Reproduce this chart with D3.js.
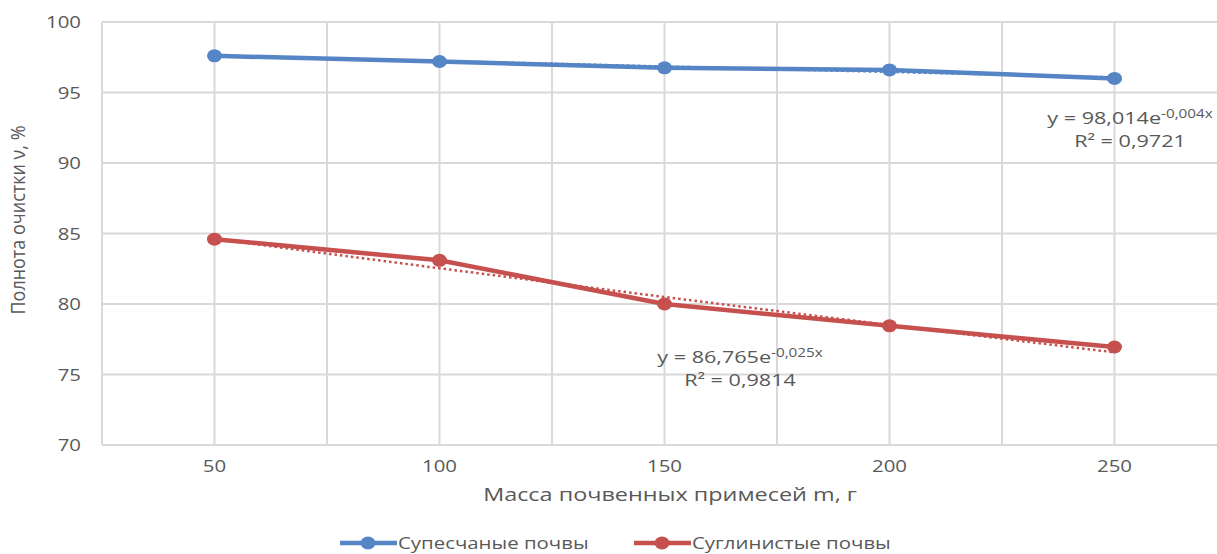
<!DOCTYPE html>
<html>
<head>
<meta charset="utf-8">
<script src="https://cdn.jsdelivr.net/npm/d3@7"></script>
<style>
  body { margin: 0; background: #fff; }
  text { font-family: "Open Sans", sans-serif; fill: #595959; }
</style>
</head>
<body>
<div id="root"></div>
<script>
// chart data
const masses = [50, 100, 150, 200, 250];
const sandyValues = [97.6, 97.2, 96.75, 96.6, 96.0];
const loamyValues = [84.6, 83.1, 80.0, 78.45, 76.95];
const yTicks = [70, 75, 80, 85, 90, 95, 100];

// trend equations as shown on the chart: y = a * e^(b * x), x = category number
const sandyTrend = { a: 98.014, b: -0.004, label: '98,014', exp: '-0,004x', r2: '0,9721' };
const loamyTrend = { a: 86.765, b: -0.025, label: '86,765', exp: '-0,025x', r2: '0,9814' };

const width = 1217, height = 554;
const plot = { left: 102, top: 22, bottom: 445, step: 225 };

const svg = d3.select('#root').append('svg')
  .attr('width', width)
  .attr('height', height)
  .attr('viewBox', [0, 0, width, height]);

// the source picture has horizontally stretched lettering, so texts get a scaleX
const place = (x, y, sx) => `translate(${x},${y}) scale(${sx},1)`;

const x = d3.scaleBand()
  .domain(masses)
  .range([plot.left, plot.left + plot.step * masses.length])
  .padding(0);
const xc = (d) => x(d) + x.bandwidth() / 2;

const y = d3.scaleLinear().domain([70, 100]).range([plot.bottom, plot.top]);

// gridlines: horizontal
svg.append('g')
  .selectAll('line')
  .data(yTicks)
  .join('line')
  .attr('x1', plot.left)
  .attr('x2', width)
  .attr('y1', (d) => y(d))
  .attr('y2', (d) => y(d))
  .attr('stroke', '#d9d9d9')
  .attr('stroke-width', 2);

// vertical gridlines at category centres and between categories
const vLines = masses.flatMap((d) => [x(d), xc(d)]);
svg.append('g')
  .selectAll('line')
  .data(vLines)
  .join('line')
  .attr('x1', (d) => d)
  .attr('x2', (d) => d)
  .attr('y1', plot.top)
  .attr('y2', plot.bottom)
  .attr('stroke', '#d9d9d9')
  .attr('stroke-width', 2);

// axis labels
svg.append('g')
  .selectAll('text')
  .data(yTicks)
  .join('text')
  .attr('transform', (d) => place(81, y(d) + 6, 1.2))
  .attr('text-anchor', 'end')
  .style('font-size', '17px')
  .text((d) => d);

svg.append('g')
  .selectAll('text')
  .data(masses)
  .join('text')
  .attr('transform', (d) => place(xc(d), 472, 1.2))
  .attr('text-anchor', 'middle')
  .style('font-size', '17px')
  .text((d) => d);

svg.append('text')
  .attr('transform', place(670, 501, 1.3))
  .attr('text-anchor', 'middle')
  .style('font-size', '18px')
  .text('Масса почвенных примесей m, г');

svg.append('text')
  .attr('transform', 'translate(25,220) rotate(-90) scale(1,1.15)')
  .attr('text-anchor', 'middle')
  .style('font-size', '18px')
  .text('Полнота очистки ν, %');

// series
const series = [
  { name: 'Супесчаные почвы', values: sandyValues, trend: sandyTrend, color: '#5585c5' },
  { name: 'Суглинистые почвы', values: loamyValues, trend: loamyTrend, color: '#c5504e' }
];

const line = d3.line()
  .x((d) => xc(d.m))
  .y((d) => y(d.v));

series.forEach((s) => {
  const pts = masses.map((m, i) => ({ m, v: s.values[i] }));
  const trendPts = masses.map((m, i) => ({ m, v: s.trend.a * Math.exp(s.trend.b * (i + 1)) }));

  svg.append('path')
    .datum(trendPts)
    .attr('d', line)
    .attr('fill', 'none')
    .attr('stroke', s.color)
    .attr('stroke-width', 2.5)
    .attr('stroke-dasharray', '2.5 3');

  svg.append('path')
    .datum(pts)
    .attr('d', line)
    .attr('fill', 'none')
    .attr('stroke', s.color)
    .attr('stroke-width', 4.5)
    .attr('stroke-linejoin', 'round');

  svg.append('g')
    .selectAll('ellipse')
    .data(pts)
    .join('ellipse')
    .attr('cx', (d) => xc(d.m))
    .attr('cy', (d) => y(d.v))
    .attr('rx', 7.5)
    .attr('ry', 6.5)
    .attr('fill', s.color);
});

// trendline equations
function equation(t, cx, yTop) {
  const eq = svg.append('text')
    .attr('transform', place(cx, yTop, 1.27))
    .attr('text-anchor', 'middle')
    .style('font-size', '17px');
  eq.append('tspan').text(`y = ${t.label}e`);
  eq.append('tspan').attr('dy', -6).style('font-size', '12px').text(t.exp);
  svg.append('text')
    .attr('transform', place(cx, yTop + 23, 1.27))
    .attr('text-anchor', 'middle')
    .style('font-size', '17px')
    .text(`R² = ${t.r2}`);
}
equation(sandyTrend, 1130, 124);
equation(loamyTrend, 740, 363);

// legend
const legend = svg.append('g')
  .selectAll('g')
  .data(series)
  .join('g')
  .attr('transform', (d, i) => `translate(${i === 0 ? 340 : 634}, 543)`);

legend.append('line')
  .attr('x1', 0).attr('x2', 57)
  .attr('stroke', (d) => d.color)
  .attr('stroke-width', 4.5);
legend.append('ellipse')
  .attr('cx', 28).attr('rx', 7.5).attr('ry', 6.5)
  .attr('fill', (d) => d.color);
legend.append('text')
  .attr('transform', place(58, 6, 1.2))
  .style('font-size', '17px')
  .text((d) => d.name);
</script>
</body>
</html>
